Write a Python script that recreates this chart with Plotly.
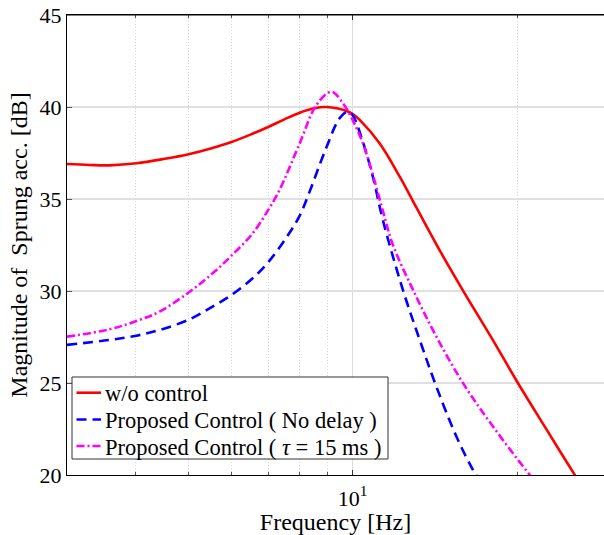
import plotly.graph_objects as go
import numpy as np

# Frequency [Hz] and magnitude [dB]
freq_wo = [3.0, 3.3, 3.59, 4.02, 4.5, 5.03, 5.5, 6.0, 6.5, 7.02, 7.5, 8.0, 8.5, 8.96, 9.4, 9.75, 10.0, 10.3, 11.2, 12.2, 13.1, 14.5, 15.9, 18.0, 20.0, 22.5, 25.5, 28.84]
mag_wo = [36.9, 36.85, 36.83, 36.94, 37.17, 37.45, 37.75, 38.1, 38.5, 38.93, 39.33, 39.69, 39.93, 40.0, 39.92, 39.78, 39.62, 39.3, 38.03, 36.2, 34.5, 32.1, 30.05, 27.4, 25.07, 22.6, 20.0, 17.5]

freq_nd = [3.0, 3.59, 4.02, 4.43, 5.03, 5.54, 6.0, 6.56, 7.02, 7.56, 8.0, 8.34, 8.95, 9.47, 9.8, 10.0, 10.44, 10.89, 11.37, 12.36, 13.27, 14.23, 15.49, 16.61, 17.5]
mag_nd = [27.07, 27.34, 27.57, 27.88, 28.46, 29.15, 29.78, 30.69, 31.6, 32.9, 34.1, 35.4, 37.8, 39.4, 39.75, 39.55, 38.1, 36.2, 33.8, 30.05, 27.33, 24.8, 22.08, 20.27, 19.2]

freq_td = [3.0, 3.59, 4.02, 4.43, 5.03, 5.54, 6.0, 6.56, 7.02, 7.35, 8.0, 8.58, 9.14, 9.6, 10.0, 10.44, 10.89, 11.37, 11.85, 12.9, 14.23, 15.93, 18.07, 21.1, 23.0]
mag_td = [27.52, 27.92, 28.37, 28.88, 29.96, 30.96, 31.92, 33.13, 34.45, 35.5, 38.03, 40.1, 40.83, 40.2, 39.29, 38.03, 36.3, 34.3, 32.5, 30.05, 27.52, 24.98, 22.63, 20.0, 18.7]

names = ["w/o control", "Proposed Control ( No delay )", "Proposed Control ( <i>τ</i> = 15 ms )"]
colors = ["#ff0000", "#0000ff", "#ff00ff"]
dashes = ["solid", "10px,6px", "8px,3px,2px,3px"]

x_major = [10]
x_major_text = ["10<sup>1</sup>"]
x_minor = [4, 5, 6, 7, 8, 9, 20]
y_ticks = [20, 25, 30, 35, 40, 45]

FONT = "Liberation Serif, Times New Roman, serif"

W, H = 604, 535
ML, MR, MT, MB = 67, 0, 15, 60
PW, PH = W - ML - MR, H - MT - MB

def px_x(p):
    return (p - ML) / PW

def px_y(p):
    return (H - MB - p) / PH

fig = go.Figure()
for fx, my, nm, c, d in zip([freq_wo, freq_nd, freq_td], [mag_wo, mag_nd, mag_td], names, colors, dashes):
    fig.add_trace(go.Scatter(x=fx, y=my, mode="lines", name=nm, showlegend=False,
                             line=dict(color=c, width=2.6, dash=d, shape="spline", smoothing=1.0)))

# top frame line
shapes = [dict(type="line", xref="paper", yref="paper", x0=0, x1=1, y0=1, y1=1,
               line=dict(color="black", width=1.2), layer="above")]
# legend box drawn by hand (MATLAB-like compact legend)
shapes.append(dict(type="rect", xref="paper", yref="paper",
                   x0=px_x(72), x1=px_x(388), y0=px_y(459), y1=px_y(377),
                   line=dict(color="#333333", width=1), fillcolor="white", layer="above"))
annotations = []
rows = [392.7, 419.5, 446]
for r, nm, c, d in zip(rows, names, colors, dashes):
    shapes.append(dict(type="line", xref="paper", yref="paper",
                       x0=px_x(76.5), x1=px_x(101), y0=px_y(r), y1=px_y(r),
                       line=dict(color=c, width=2.6, dash=d), layer="above"))
    annotations.append(dict(xref="paper", yref="paper", x=px_x(103), y=px_y(r + 1),
                            xanchor="left", yanchor="middle", showarrow=False,
                            text=nm, font=dict(family=FONT, size=22.5, color="black")))

fig.update_layout(
    width=W, height=H,
    margin=dict(l=ML, r=MR, t=MT, b=MB, autoexpand=False),
    paper_bgcolor="white", plot_bgcolor="white",
    font=dict(family=FONT, size=22, color="black"),
    showlegend=False,
    shapes=shapes, annotations=annotations,
)
fig.update_xaxes(
    type="log", range=[np.log10(3), np.log10(28.84)], automargin=False,
    tickmode="array", tickvals=x_major, ticktext=x_major_text,
    showgrid=True, gridcolor="#dcdcdc", gridwidth=1,
    ticks="inside", ticklen=5, tickcolor="#333333",
    showline=True, linecolor="black", linewidth=1.2, mirror="ticks",
    minor=dict(tickmode="array", tickvals=x_minor, showgrid=True, gridcolor="#d4d4d4",
               griddash="1px,2px", gridwidth=1, ticks="inside", ticklen=3, tickcolor="#555555"),
    tickfont=dict(family=FONT, size=22), ticklabelstandoff=3,
    title=dict(text="Frequency [Hz]", font=dict(family=FONT, size=24), standoff=3),
    zeroline=False,
)
fig.update_yaxes(
    range=[20, 45], tickmode="array", tickvals=y_ticks, automargin=False,
    showgrid=True, gridcolor="#e0e0e0", gridwidth=1.5,
    ticks="inside", ticklen=5, tickcolor="#555555",
    showline=True, linecolor="black", linewidth=1.2,
    tickfont=dict(family=FONT, size=22),
    title=dict(text="Magnitude of\u00a0 Sprung acc. [dB]", font=dict(family=FONT, size=24), standoff=5),
    zeroline=False,
)

fig.write_html("out.html", config={"displayModeBar": False},
               post_script="document.body.style.margin='0';document.body.style.overflow='hidden';")
